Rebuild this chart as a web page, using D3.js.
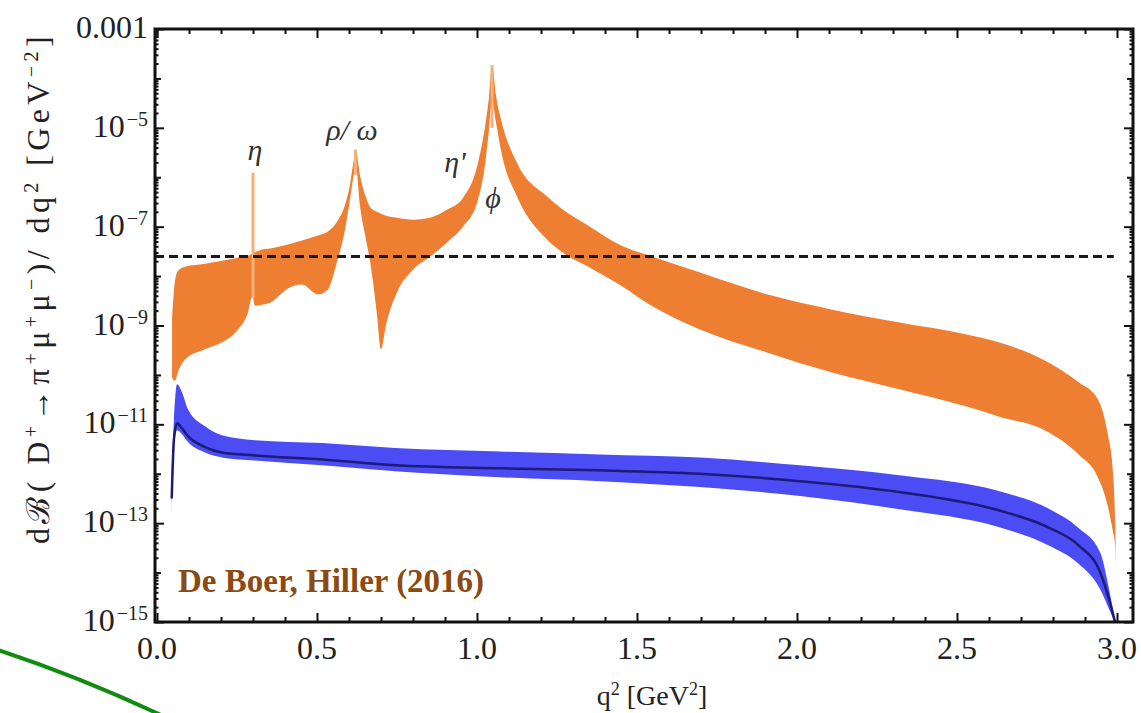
<!DOCTYPE html>
<html>
<head>
<meta charset="utf-8">
<script src="https://cdnjs.cloudflare.com/ajax/libs/d3/7.8.5/d3.min.js"></script>
<style>
  html, body { margin: 0; padding: 0; background: #fff; }
  svg { display: block; }
  text { font-family: "Liberation Serif", "Times New Roman", serif; fill: #222; }
</style>
</head>
<body>
<svg class="graph" width="1141" height="713"></svg>
<script>
//======
// data  (log10 of dB/dq^2)
//======

// orange band: resonant contributions
var orangeQ2 = [0.047, 0.056, 0.066, 0.0875, 0.15, 0.203, 0.253, 0.284, 0.298, 0.306,
  0.328, 0.353, 0.409, 0.453, 0.503, 0.534, 0.5625, 0.5875, 0.603, 0.6125,
  0.622, 0.634, 0.65, 0.666, 0.6875, 0.70, 0.716, 0.75, 0.80, 0.853,
  0.906, 0.956, 1.0, 1.025, 1.0375, 1.047, 1.059, 1.078, 1.125, 1.219,
  1.269, 1.353, 1.447, 1.54, 1.697, 1.906, 2.11, 2.32, 2.53, 2.63,
  2.78, 2.88, 2.94, 2.97, 2.9875, 2.994, 2.997];
var orangeHi = [-8.88, -8.11, -7.89, -7.81, -7.75, -7.69, -7.63, -7.59, -7.55, -7.52,
  -7.46, -7.44, -7.36, -7.28, -7.18, -7.10, -6.90, -6.56, -6.15, -5.75,
  -5.48, -5.95, -6.35, -6.60, -6.70, -6.74, -6.78, -6.82, -6.86, -6.82,
  -6.66, -6.42, -5.79, -4.98, -4.38, -3.73, -4.33, -4.90, -5.71, -6.39,
  -6.66, -7.00, -7.37, -7.59, -7.93, -8.37, -8.68, -8.94, -9.18, -9.34,
  -9.73, -10.15, -10.49, -11.16, -11.97, -12.92, -13.73];
var orangeLo = [-10.05, -10.12, -9.93, -9.69, -9.48, -9.34, -9.08, -8.74, -8.41, -8.60,
  -8.58, -8.54, -8.25, -8.17, -8.37, -8.27, -7.71, -7.06, -6.45, -6.05,
  -5.81, -6.56, -7.16, -7.71, -8.78, -9.48, -8.98, -8.33, -7.87, -7.61,
  -7.32, -7.00, -6.52, -5.75, -5.04, -4.43, -4.88, -5.55, -6.39, -7.26,
  -7.53, -7.83, -8.18, -8.58, -9.08, -9.545, -9.95, -10.29, -10.64, -10.84,
  -11.14, -11.61, -12.07, -12.62, -13.18, -13.42, -13.79];

// narrow resonance tips
var spikeQ2 = [0.300, 0.620, 1.047];
var spikeTop = [-5.91, -5.44, -3.73];
var spikeBase = [-8.45, -5.95, -5.0];

// blue band: non-resonant SM
var blueQ2 = [0.046, 0.053, 0.0625, 0.078, 0.097, 0.15, 0.203, 0.306, 0.516, 0.744,
  1.072, 1.384, 1.697, 2.01, 2.32, 2.63, 2.79, 2.88, 2.947, 2.978, 2.994];
var blueHi = [-11.9, -10.9, -10.19, -10.35, -10.70, -11.04, -11.22, -11.32, -11.38, -11.48,
  -11.55, -11.61, -11.67, -11.83, -12.03, -12.35, -12.72, -13.10, -13.59, -14.43, -14.98];
var blueMid = [-12.5, -11.3, -10.98, -11.08, -11.24, -11.46, -11.57, -11.63, -11.71, -11.83,
  -11.89, -11.93, -12.00, -12.15, -12.37, -12.74, -13.10, -13.45, -13.99, -14.60, -15.0];
var blueLo = [-12.82, -11.45, -11.12, -11.20, -11.36, -11.57, -11.67, -11.73, -11.83, -11.95,
  -12.07, -12.15, -12.27, -12.45, -12.72, -13.08, -13.46, -13.82, -14.33, -14.78, -15.04];

var limitValue = 2.5e-8;
var limitEnd = 2.99;

var xTicks = [0, 0.5, 1, 1.5, 2, 2.5, 3];
var xTickLabels = ["0.0", "0.5", "1.0", "1.5", "2.0", "2.5", "3.0"];
var yTickExp = [-3, -5, -7, -9, -11, -13, -15];

var resNames = ["η", "ρ/ ω", "η'", "ϕ"];
var resQ2 = [0.306, 0.609, 0.931, 1.05];
var resLog = [-5.65, -5.25, -5.89, -6.62];

//======
// chart
//======

var width = 1141, height = 713;
var frame = {left: 155, right: 1133, top: 29, bottom: 622};
var svg = d3.select(".graph");
var pow10 = function (e) { return Math.pow(10, e); };

var x = d3.scaleLinear().domain([-0.00625, 3.05]).range([frame.left, frame.right]);
var y = d3.scaleLog().domain([1e-15, 1e-3]).range([frame.bottom, frame.top]);

main();

function main() {
  drawBands();
  drawAxes();
  drawText();
}

function drawBands() {
  svg.append("defs").append("clipPath").attr("id", "plotClip")
    .append("rect")
    .attr("x", frame.left).attr("y", frame.top)
    .attr("width", frame.right - frame.left)
    .attr("height", frame.bottom - frame.top);

  var plot = svg.append("g").attr("clip-path", "url(#plotClip)");

  var orange = orangeQ2.map(function (q, i) {
    return {q: q, hi: pow10(orangeHi[i]), lo: pow10(orangeLo[i])};
  });
  var blue = blueQ2.map(function (q, i) {
    return {q: q, hi: pow10(blueHi[i]), mid: pow10(blueMid[i]), lo: pow10(blueLo[i])};
  });

  var band = d3.area()
    .x(function (d) { return x(d.q); })
    .y0(function (d) { return y(d.lo); })
    .y1(function (d) { return y(d.hi); })
    .curve(d3.curveMonotoneX);

  plot.append("path")
    .datum(orange)
    .attr("fill", "#ee7f32")
    .attr("d", band);

  plot.selectAll("line.spike")
    .data(spikeQ2)
    .enter().append("line")
    .attr("class", "spike")
    .attr("x1", function (d) { return x(d); })
    .attr("x2", function (d) { return x(d); })
    .attr("y1", function (d, i) { return y(pow10(spikeBase[i])); })
    .attr("y2", function (d, i) { return y(pow10(spikeTop[i])); })
    .attr("stroke", "#f6b07a")
    .attr("stroke-width", 3);

  plot.append("path")
    .datum(blue)
    .attr("fill", "#4c4cf4")
    .attr("d", band);

  plot.append("path")
    .datum(blue)
    .attr("fill", "none")
    .attr("stroke", "#1b1b78")
    .attr("stroke-width", 2.5)
    .attr("d", d3.line()
      .x(function (d) { return x(d.q); })
      .y(function (d) { return y(d.mid); })
      .curve(d3.curveMonotoneX));

  plot.append("line")
    .attr("x1", frame.left).attr("x2", x(limitEnd))
    .attr("y1", y(limitValue)).attr("y2", y(limitValue))
    .attr("stroke", "#1a1a1a")
    .attr("stroke-width", 3)
    .attr("stroke-dasharray", "9,5");
}

function drawAxes() {
  var xMinor = d3.range(0, 30.5, 1).map(function (d) { return d / 10; })
    .filter(function (d) { return Math.round(d * 10) % 5 !== 0; });
  var yMajor = yTickExp.map(pow10);
  var yDecade = d3.range(-14, -3, 2).map(pow10);
  var ySmall = [];
  d3.range(-15, -3).forEach(function (e) {
    d3.range(2, 10).forEach(function (m) { ySmall.push(m * pow10(e)); });
  });

  var axes = svg.append("g").attr("class", "axes");

  function addAxis(gen, transform, values, size) {
    var g = axes.append("g")
      .attr("transform", transform)
      .call(gen.tickValues(values).tickSize(-size).tickFormat(""));
    g.select(".domain").remove();
    g.selectAll(".tick line").attr("stroke", "#111").attr("stroke-width", 2);
  }

  var bt = "translate(0," + frame.bottom + ")";
  var tt = "translate(0," + frame.top + ")";
  var lt = "translate(" + frame.left + ",0)";
  var rt = "translate(" + frame.right + ",0)";

  addAxis(d3.axisBottom(x), bt, xTicks, 9);
  addAxis(d3.axisBottom(x), bt, xMinor, 5);
  addAxis(d3.axisTop(x), tt, xTicks, 9);
  addAxis(d3.axisTop(x), tt, xMinor, 5);
  addAxis(d3.axisLeft(y), lt, yMajor, 9);
  addAxis(d3.axisLeft(y), lt, yDecade, 6);
  addAxis(d3.axisLeft(y), lt, ySmall, 3.5);
  addAxis(d3.axisRight(y), rt, yMajor, 9);
  addAxis(d3.axisRight(y), rt, yDecade, 6);
  addAxis(d3.axisRight(y), rt, ySmall, 3.5);

  axes.append("rect")
    .attr("x", frame.left).attr("y", frame.top)
    .attr("width", frame.right - frame.left)
    .attr("height", frame.bottom - frame.top)
    .attr("fill", "none")
    .attr("stroke", "#111")
    .attr("stroke-width", 3);

  // tick labels
  axes.selectAll("text.xlab")
    .data(xTicks)
    .enter().append("text")
    .attr("class", "xlab")
    .attr("x", function (d) { return x(d); })
    .attr("y", frame.bottom + 37)
    .attr("text-anchor", "middle")
    .attr("font-size", 32)
    .text(function (d, i) { return xTickLabels[i]; });

  var ylab = axes.selectAll("text.ylab")
    .data(yTickExp)
    .enter().append("text")
    .attr("class", "ylab")
    .attr("x", frame.left - 7)
    .attr("y", function (d) { return y(pow10(d)) + 9; })
    .attr("text-anchor", "end")
    .attr("font-size", 32);

  ylab.each(function (d) {
    var t = d3.select(this);
    if (d === -3) {
      t.text("0.001");
    } else {
      t.append("tspan").text("10");
      t.append("tspan").attr("font-size", 20).attr("dy", -11).attr("dx", 2).text("\u2212" + (-d));
    }
  });
}

function drawText() {
  // y title
  var ty = svg.append("text")
    .attr("transform", "translate(49,288) rotate(-90)")
    .attr("text-anchor", "middle")
    .attr("font-size", 32);
  var parts = [
    ["d\u212C( D", 0], ["+", 1], ["\u2192\u03C0", 0], ["+", 1], ["\u03BC", 0], ["+", 1],
    ["\u03BC", 0], ["\u2212", 1], [")/ dq", 0], ["2", 1], [" [GeV", 0], ["\u22122", 1], ["]", 0]
  ];
  var up = false;
  parts.forEach(function (p) {
    var s = ty.append("tspan").text(p[0]);
    if (p[1] && !up) { s.attr("dy", -11).attr("font-size", 20); up = true; }
    else if (p[1]) { s.attr("font-size", 20); }
    else if (up) { s.attr("dy", 11); up = false; }
  });
  var len = ty.node().getComputedTextLength();
  var nChars = ty.text().length;
  ty.attr("letter-spacing", Math.max(0, (512 - len) / nChars));

  // x title, close to the bottom edge
  var tx = svg.append("text")
    .attr("x", 652).attr("y", 705)
    .attr("text-anchor", "middle")
    .attr("font-size", 28);
  tx.append("tspan").text("q");
  tx.append("tspan").attr("font-size", 18).attr("dy", -10).text("2");
  tx.append("tspan").attr("dy", 10).text(" [GeV");
  tx.append("tspan").attr("font-size", 18).attr("dy", -10).text("2");
  tx.append("tspan").attr("dy", 10).text("]");

  // resonance names
  svg.selectAll("text.res")
    .data(resNames)
    .enter().append("text")
    .attr("class", "res")
    .attr("x", function (d, i) { return x(resQ2[i]); })
    .attr("y", function (d, i) { return y(pow10(resLog[i])); })
    .attr("text-anchor", "middle")
    .attr("font-style", "italic")
    .attr("font-size", 30)
    .style("fill", "#333")
    .text(function (d) { return d; });

  svg.append("text")
    .attr("x", 178).attr("y", 592)
    .attr("font-size", 33)
    .attr("font-weight", "bold")
    .style("fill", "#8c4a12")
    .text("De Boer, Hiller (2016)");

  // green pen stroke at lower left
  svg.append("path")
    .attr("d", "M-2,650 Q80,677 163,716")
    .attr("fill", "none")
    .attr("stroke", "#118a11")
    .attr("stroke-width", 4);
}
</script>
</body>
</html>
